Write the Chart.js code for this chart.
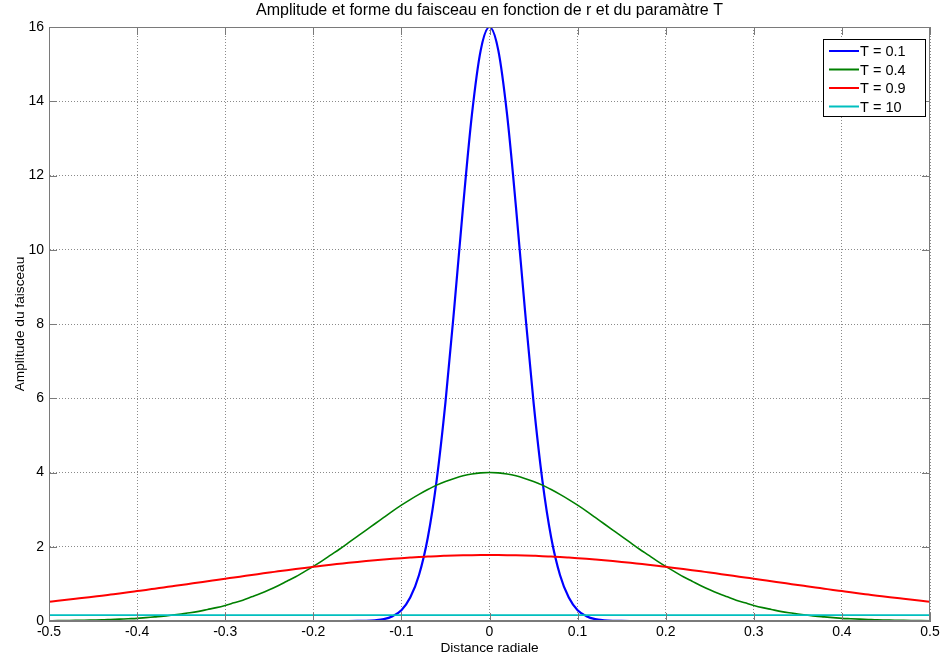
<!DOCTYPE html>
<html>
<head>
<meta charset="utf-8">
<script src="https://cdn.jsdelivr.net/npm/chart.js@4"></script>
<style>
  html, body { margin: 0; padding: 0; background: #fff; }
</style>
</head>
<body>
<canvas id="myChart" width="944" height="662"></canvas>
<script>
const ctx = document.getElementById('myChart');

// distance radiale
const xs = [
  -0.50, -0.49, -0.48, -0.47, -0.46, -0.45, -0.44, -0.43, -0.42, -0.41,
  -0.40, -0.39, -0.38, -0.37, -0.36, -0.35, -0.34, -0.33, -0.32, -0.31,
  -0.30, -0.29, -0.28, -0.27, -0.26, -0.25, -0.24, -0.23, -0.22, -0.21,
  -0.20, -0.19, -0.18, -0.17, -0.16, -0.15, -0.14, -0.13, -0.12, -0.11,
  -0.10, -0.09, -0.08, -0.07, -0.06, -0.05, -0.04, -0.03, -0.02, -0.01,
  0,
  0.01, 0.02, 0.03, 0.04, 0.05, 0.06, 0.07, 0.08, 0.09, 0.10,
  0.11, 0.12, 0.13, 0.14, 0.15, 0.16, 0.17, 0.18, 0.19, 0.20,
  0.21, 0.22, 0.23, 0.24, 0.25, 0.26, 0.27, 0.28, 0.29, 0.30,
  0.31, 0.32, 0.33, 0.34, 0.35, 0.36, 0.37, 0.38, 0.39, 0.40,
  0.41, 0.42, 0.43, 0.44, 0.45, 0.46, 0.47, 0.48, 0.49, 0.50
];

const labels = ['T = 0.1', 'T = 0.4', 'T = 0.9', 'T = 10'];

const ampT01 = [
  0, 0, 0, 0, 0, 0, 0, 0, 0, 0,
  0, 0, 0, 0, 0, 0, 0, 0, 0, 0,
  0, 0, 0, 0, 0, 0, 0, 0, 0, 0,
  0, 0, 0, 0, 0, 0.002, 0.006, 0.02, 0.05, 0.13,
  0.29, 0.63, 1.24, 2.25, 3.79, 5.89, 8.44, 11.16, 13.63, 15.37,
  16,
  15.37, 13.63, 11.16, 8.44, 5.89, 3.79, 2.25, 1.24, 0.63, 0.29,
  0.13, 0.05, 0.02, 0.006, 0.002, 0, 0, 0, 0, 0,
  0, 0, 0, 0, 0, 0, 0, 0, 0, 0,
  0, 0, 0, 0, 0, 0, 0, 0, 0, 0,
  0, 0, 0, 0, 0, 0, 0, 0, 0, 0
];

const ampT04 = [
  0.008, 0.01, 0.013, 0.016, 0.02, 0.025, 0.03, 0.04, 0.05, 0.06,
  0.07, 0.09, 0.11, 0.13, 0.16, 0.19, 0.22, 0.26, 0.31, 0.36,
  0.42, 0.49, 0.56, 0.65, 0.74, 0.84, 0.95, 1.07, 1.19, 1.33,
  1.47, 1.62, 1.78, 1.94, 2.11, 2.28, 2.45, 2.62, 2.79, 2.96,
  3.12, 3.27, 3.41, 3.54, 3.66, 3.76, 3.84, 3.91, 3.96, 3.99,
  4.00,
  3.99, 3.96, 3.91, 3.84, 3.76, 3.66, 3.54, 3.41, 3.27, 3.12,
  2.96, 2.79, 2.62, 2.45, 2.28, 2.11, 1.94, 1.78, 1.62, 1.47,
  1.33, 1.19, 1.07, 0.95, 0.84, 0.74, 0.65, 0.56, 0.49, 0.42,
  0.36, 0.31, 0.26, 0.22, 0.19, 0.16, 0.13, 0.11, 0.09, 0.07,
  0.06, 0.05, 0.04, 0.03, 0.025, 0.02, 0.016, 0.013, 0.01, 0.008
];

const ampT09 = [
  0.517, 0.543, 0.570, 0.598, 0.625, 0.654, 0.682, 0.712, 0.742, 0.773,
  0.805, 0.837, 0.870, 0.903, 0.936, 0.969, 1.003, 1.037, 1.070, 1.105,
  1.139, 1.172, 1.206, 1.240, 1.273, 1.306, 1.337, 1.369, 1.400, 1.430,
  1.459, 1.488, 1.515, 1.541, 1.567, 1.591, 1.614, 1.636, 1.656, 1.675,
  1.692, 1.708, 1.723, 1.735, 1.747, 1.756, 1.764, 1.770, 1.774, 1.777,
  1.778,
  1.777, 1.774, 1.770, 1.764, 1.756, 1.747, 1.735, 1.723, 1.708, 1.692,
  1.675, 1.656, 1.636, 1.614, 1.591, 1.567, 1.541, 1.515, 1.488, 1.459,
  1.430, 1.400, 1.369, 1.337, 1.306, 1.273, 1.240, 1.206, 1.172, 1.139,
  1.105, 1.070, 1.037, 1.003, 0.969, 0.936, 0.903, 0.870, 0.837, 0.805,
  0.773, 0.742, 0.712, 0.682, 0.654, 0.625, 0.598, 0.570, 0.543, 0.517
];

const ampT10 = [
  0.158, 0.158, 0.158, 0.158, 0.158, 0.159, 0.159, 0.159, 0.159, 0.159,
  0.159, 0.159, 0.159, 0.159, 0.159, 0.159, 0.159, 0.159, 0.159, 0.159,
  0.16, 0.16, 0.16, 0.16, 0.16, 0.16, 0.16, 0.16, 0.16, 0.16,
  0.16, 0.16, 0.16, 0.16, 0.16, 0.16, 0.16, 0.16, 0.16, 0.16,
  0.16, 0.16, 0.16, 0.16, 0.16, 0.16, 0.16, 0.16, 0.16, 0.16,
  0.16,
  0.16, 0.16, 0.16, 0.16, 0.16, 0.16, 0.16, 0.16, 0.16, 0.16,
  0.16, 0.16, 0.16, 0.16, 0.16, 0.16, 0.16, 0.16, 0.16, 0.16,
  0.16, 0.16, 0.16, 0.16, 0.16, 0.16, 0.16, 0.16, 0.16, 0.16,
  0.159, 0.159, 0.159, 0.159, 0.159, 0.159, 0.159, 0.159, 0.159, 0.159,
  0.159, 0.159, 0.159, 0.159, 0.159, 0.158, 0.158, 0.158, 0.158, 0.158
];

const yTicks = [0, 2, 4, 6, 8, 10, 12, 14, 16];

const FONT = "'Liberation Sans', Arial, sans-serif";

function pts(ys) {
  return xs.map((x, i) => ({ x: x, y: ys[i] }));
}

// boite type matlab : cadre + petits traits vers l'interieur + legende
const matlabBox = {
  id: 'matlabBox',
  afterDatasetsDraw(chart) {
    const c = chart.ctx;
    const a = chart.chartArea;
    const sx = chart.scales.x, sy = chart.scales.y;
    c.save();
    c.strokeStyle = '#7a7a7a';
    c.lineWidth = 1;
    c.strokeRect(Math.round(a.left) + 0.5, Math.round(a.top) + 0.5,
                 Math.round(a.right - a.left) - 1, Math.round(a.bottom - a.top) - 1);
    c.beginPath();
    sx.ticks.forEach(t => {
      const px = Math.round(sx.getPixelForValue(t.value)) + 0.5;
      c.moveTo(px, a.bottom); c.lineTo(px, a.bottom - 8);
      c.moveTo(px, a.top); c.lineTo(px, a.top + 8);
    });
    sy.ticks.forEach(t => {
      const py = Math.round(sy.getPixelForValue(t.value)) + 0.5;
      c.moveTo(a.left, py); c.lineTo(a.left + 8, py);
      c.moveTo(a.right, py); c.lineTo(a.right - 8, py);
    });
    c.stroke();
    c.restore();
  },
  afterDraw(chart) {
    const c = chart.ctx;
    const a = chart.chartArea;
    const w = 102, h = 77;
    const x0 = Math.round(a.right - 5 - w), y0 = Math.round(a.top + 12);
    c.save();
    c.fillStyle = '#fff';
    c.fillRect(x0, y0, w, h);
    c.strokeStyle = '#000';
    c.lineWidth = 1;
    c.strokeRect(x0 + 0.5, y0 + 0.5, w, h);
    c.font = '14.5px ' + FONT;
    c.textBaseline = 'middle';
    c.textAlign = 'left';
    chart.data.datasets.forEach((ds, i) => {
      const y = y0 + 12 + i * 18.5;
      c.strokeStyle = ds.borderColor;
      c.lineWidth = 2;
      c.beginPath();
      c.moveTo(x0 + 6, y);
      c.lineTo(x0 + 36, y);
      c.stroke();
      c.fillStyle = '#000';
      c.fillText(ds.label, x0 + 37, y + 1);
    });
    c.restore();
  }
};

new Chart(ctx, {
  type: 'line',
  data: {
    datasets: [
      { label: labels[0], data: pts(ampT01), borderColor: '#0000ff', borderWidth: 2.2, order: 3 },
      { label: labels[1], data: pts(ampT04), borderColor: '#008000', borderWidth: 1.6, order: 2 },
      { label: labels[2], data: pts(ampT09), borderColor: '#ff0000', borderWidth: 2, order: 1 },
      { label: labels[3], data: pts(ampT10), borderColor: '#00bfbf', borderWidth: 1.8, order: 0 }
    ]
  },
  options: {
    responsive: false,
    animation: false,
    events: [],
    elements: {
      point: { radius: 0 },
      line: { cubicInterpolationMode: 'monotone', fill: false }
    },
    layout: { padding: { left: 0, right: 14, top: 0, bottom: 0 } },
    plugins: {
      legend: { display: false },
      tooltip: { enabled: false },
      title: {
        display: true,
        fullSize: false,
        text: 'Amplitude et forme du faisceau en fonction de r et du paramàtre T',
        color: '#000',
        font: { family: FONT, size: 16, weight: 'normal', lineHeight: 1.2 },
        padding: { top: 0.5, bottom: 7.3 }
      }
    },
    scales: {
      x: {
        type: 'linear',
        min: -0.5,
        max: 0.5,
        afterFit(scale) { scale.height = 41; },
        ticks: {
          stepSize: 0.1,
          color: '#000',
          padding: 3,
          maxRotation: 0,
          font: { family: FONT, size: 14 },
          callback: v => String(Math.round(v * 10) / 10)
        },
        grid: { color: '#8a8a8a', drawTicks: false },
        border: { color: '#7a7a7a', dash: [1, 2] },
        title: {
          display: true,
          text: 'Distance radiale',
          color: '#000',
          font: { family: FONT, size: 13.7, lineHeight: 1.2 },
          padding: { top: 0, bottom: 6 }
        }
      },
      y: {
        min: 0,
        max: 16,
        afterFit(scale) { scale.width = 49; },
        afterBuildTicks(scale) { scale.ticks = yTicks.map(v => ({ value: v })); },
        ticks: {
          color: '#000',
          padding: 5,
          font: { family: FONT, size: 14 }
        },
        grid: { color: '#8a8a8a', drawTicks: false },
        border: { color: '#7a7a7a', dash: [1, 2] },
        title: {
          display: true,
          text: 'Amplitude du faisceau',
          color: '#000',
          font: { family: FONT, size: 13.7, lineHeight: 1.2 },
          padding: { top: 12, bottom: 0 }
        }
      }
    }
  },
  plugins: [matlabBox]
});
</script>
</body>
</html>
